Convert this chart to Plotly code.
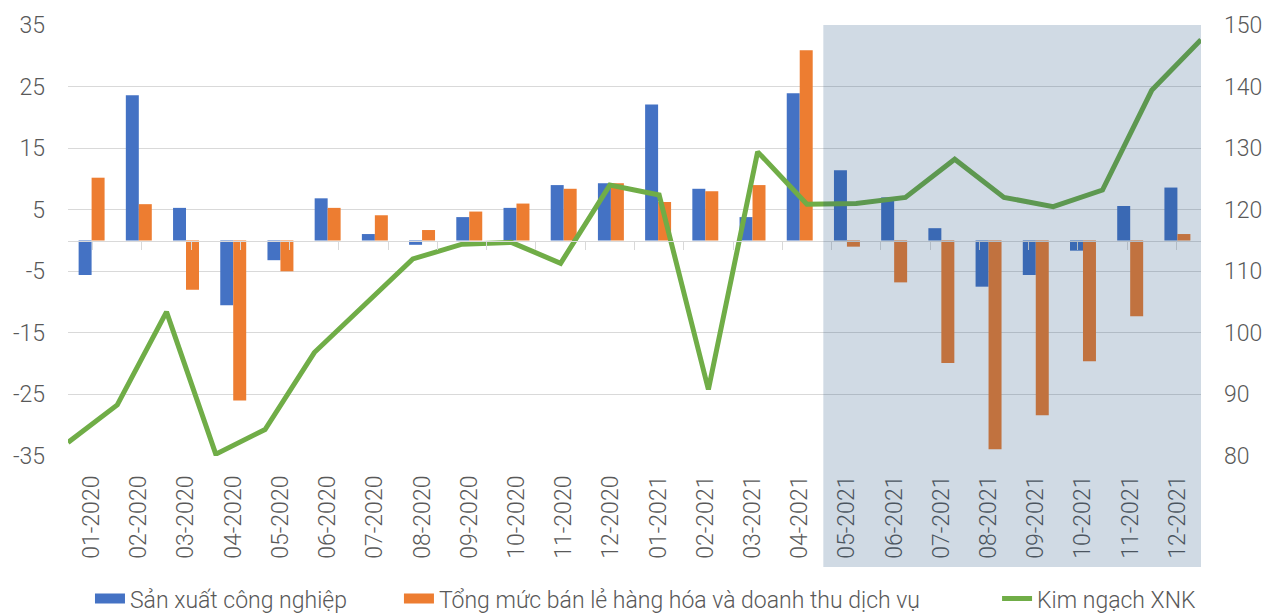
import plotly.graph_objects as go

months = ["01-2020", "02-2020", "03-2020", "04-2020", "05-2020", "06-2020",
          "07-2020", "08-2020", "09-2020", "10-2020", "11-2020", "12-2020",
          "01-2021", "02-2021", "03-2021", "04-2021", "05-2021", "06-2021",
          "07-2021", "08-2021", "09-2021", "10-2021", "11-2021", "12-2021"]

san_xuat = [-5.6, 23.6, 5.3, -10.5, -3.2, 6.85, 1.05, -0.7, 3.8, 5.3, 9.0, 9.3,
            22.1, 8.4, 3.8, 23.9, 11.4, 7.0, 2.0, -7.5, -5.6, -1.65, 5.6, 8.6]

ban_le = [10.2, 5.9, -8.0, -26.0, -5.0, 5.3, 4.1, 1.7, 4.7, 6.0, 8.4, 9.3,
          6.25, 8.0, 9.0, 30.9, -1.0, -6.8, -19.9, -33.9, -28.4, -19.6, -12.3, 1.05]

xnk = [82.2, 88.3, 103.4, 80.3, 84.3, 96.8, 104.4, 112.0, 114.4, 114.7, 111.3, 124.0,
       122.4, 90.8, 129.4, 120.9, 121.0, 122.0, 128.2, 122.0, 120.5, 123.2, 139.4, 147.6]

left_ticks = [-35, -25, -15, -5, 5, 15, 25, 35]
left_tick_labels = ["-35", "-25", "-15", "-5", "5", "15", "25", "35"]
right_ticks = [80, 90, 100, 110, 120, 130, 140, 150]

names = ["Sản xuất công nghiệp", "Tổng mức bán lẻ hàng hóa và doanh thu dịch vụ", "Kim ngạch XNK"]
colors = ["#4472C4", "#ED7D31", "#70AD47"]
shade_from, shade_to = "05-2021", "12-2021"

FONT = "Roboto Light, Roboto, sans-serif"
GREY = "#595959"

fig = go.Figure()
fig.add_trace(go.Bar(x=months, y=san_xuat, name=names[0], showlegend=False, legendgroup="a",
                     marker=dict(color=colors[0], line=dict(width=0))))
fig.add_trace(go.Bar(x=months, y=ban_le, name=names[1], showlegend=False, legendgroup="b",
                     marker=dict(color=colors[1], line=dict(width=0))))
fig.add_trace(go.Scatter(x=months, y=xnk, name=names[2], mode="lines", legend="legend3",
                         line=dict(color=colors[2], width=5), xaxis="x2", yaxis="y2"))
# legend swatches for the bar series (wide rectangles as in the original)
fig.add_trace(go.Scatter(x=[None], y=[None], name=names[0], mode="lines", legendgroup="a",
                         legend="legend", line=dict(color=colors[0], width=17)))
fig.add_trace(go.Scatter(x=[None], y=[None], name=names[1], mode="lines", legendgroup="b",
                         legend="legend2", line=dict(color=colors[1], width=17)))

i0 = months.index(shade_from) - 0.5
i1 = months.index(shade_to) + 0.5
fig.add_shape(type="rect", xref="x", yref="paper", x0=i0, x1=i1, y0=-0.2575, y1=1,
              fillcolor="rgba(20,70,120,0.2)", line=dict(width=0), layer="above")

tickfont = dict(family=FONT, size=23, color=GREY, weight=300)
legfont = dict(family=FONT, size=23, color=GREY, weight=300)
leg_common = dict(orientation="h", xanchor="left", y=-0.331, yanchor="middle",
                  font=legfont, itemwidth=30, bgcolor="rgba(0,0,0,0)")

fig.update_layout(
    width=1267, height=613,
    margin=dict(l=68, r=66, t=25, b=157, autoexpand=False),
    paper_bgcolor="white", plot_bgcolor="white",
    barmode="group", bargap=0.45, bargroupgap=0,
    font=dict(family=FONT, size=23, color=GREY, weight=300),
    showlegend=True,
    legend=dict(x=0.0194, **leg_common),
    legend2=dict(x=0.2921, **leg_common),
    legend3=dict(x=0.820, **leg_common),
    xaxis=dict(type="category", tickangle=-90, tickfont=tickfont, ticks="",
               showgrid=False, showline=False, zeroline=False, ticklabelstandoff=14,
               automargin=False),
    xaxis2=dict(type="category", overlaying="x", anchor="free", position=0.5, side="bottom",
                showticklabels=False, showgrid=False, zeroline=False,
                showline=True, linecolor="#D9D9D9", linewidth=1,
                ticks="outside", tickson="boundaries", ticklen=8, tickcolor="#D9D9D9"),
    yaxis=dict(range=[-35, 35], tickvals=left_ticks, ticktext=left_tick_labels, tickfont=tickfont,
               showgrid=True, gridcolor="rgba(0,0,0,0.15)", gridwidth=1,
               zeroline=False, showline=False, ticks="", ticklabelstandoff=22,
               automargin=False),
    yaxis2=dict(range=[80, 150], tickvals=right_ticks, tickfont=tickfont,
                overlaying="y", side="right", anchor="x2",
                showgrid=False, zeroline=False, showline=False, ticks="", ticklabelstandoff=22,
                automargin=False),
)

fig.write_html("out.html", config={"displayModeBar": False},
               post_script="document.body.style.margin='0';document.body.style.overflow='hidden';")
